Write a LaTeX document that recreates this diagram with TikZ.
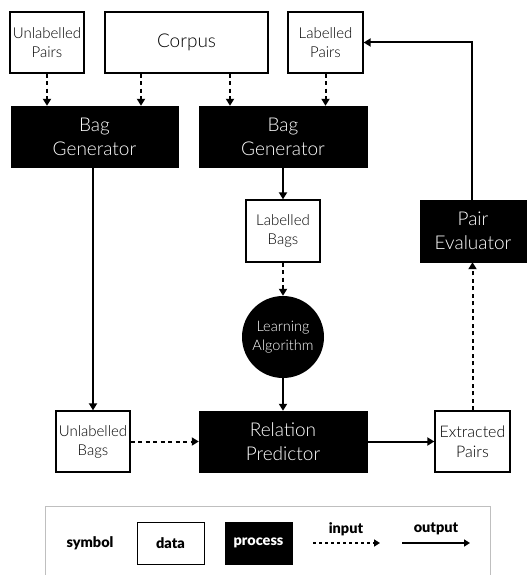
\documentclass[tikz,border=0pt]{standalone}
\usepackage{fontspec}
\setmainfont{Lato Light}[BoldFont={Lato Black}]
\usetikzlibrary{arrows.meta}
\begin{document}
\begin{tikzpicture}[x=1pt,y=-1pt,
  databox/.style={draw=black,line width=1.3pt,fill=white,align=center,inner sep=0pt,font=\fontsize{15}{19}\selectfont},
  procbox/.style={draw=black,fill=black,text=white,align=center,inner sep=0pt,font=\fontsize{19}{24}\selectfont},
  legtext/.style={font=\bfseries\fontsize{14.5}{17}\selectfont},
  inarrow/.style={line width=2pt,dash pattern=on 4pt off 3.5pt,-{Triangle[length=7pt,width=8pt]}},
  outarrow/.style={line width=2pt,-{Triangle[length=7pt,width=8pt]}}]
\useasboundingbox (0,0) rectangle (530,575);
% data nodes
\node[databox,minimum width=74pt,minimum height=61pt] (up) at (47,42.5) {Unlabelled\\Pairs};
\node[databox,minimum width=163pt,minimum height=61pt,font=\fontsize{19}{24}\selectfont] (corpus) at (186.5,42.5) {Corpus};
\node[databox,minimum width=75pt,minimum height=61pt] (lp) at (325.5,42.5) {Labelled\\Pairs};
\node[procbox,minimum width=167pt,minimum height=61pt] (bg1) at (94.5,136.5) {Bag\\Generator};
\node[procbox,minimum width=168pt,minimum height=61pt] (bg2) at (283,136.5) {Bag\\Generator};
\node[databox,minimum width=74pt,minimum height=62pt] (lb) at (283,231) {Labelled\\Bags};
\node[circle,fill=black,text=white,minimum size=82pt,inner sep=0pt,align=center,font=\fontsize{14.5}{19}\selectfont] (la) at (283,337) {Learning\\Algorithm};
\node[procbox,minimum width=106pt,minimum height=62pt] (pe) at (473,231) {Pair\\Evaluator};
\node[databox,minimum width=74pt,minimum height=61pt] (ub) at (93,441.5) {Unlabelled\\Bags};
\node[procbox,minimum width=168pt,minimum height=61pt] (rp) at (283,441.5) {Relation\\Predictor};
\node[databox,minimum width=75pt,minimum height=61pt,font=\fontsize{16}{20}\selectfont] (ep) at (472.5,441.5) {Extracted\\Pairs};
% connectors
\draw[inarrow] (up.south) -- (bg1.north -| up.south);
\draw[inarrow] (corpus.south -| 141,0) -- (bg1.north -| 141,0);
\draw[inarrow] (corpus.south -| 230,0) -- (bg2.north -| 230,0);
\draw[inarrow] (lp.south) -- (bg2.north -| lp.south);
\draw[outarrow] (bg1.south -| ub.north) -- (ub.north);
\draw[outarrow] (bg2.south) -- (lb.north);
\draw[inarrow] (lb.south) -- (la.north);
\draw[outarrow] (la.south) -- (rp.north);
\draw[inarrow] (ub.east) -- (rp.west);
\draw[outarrow] (rp.east) -- (ep.west);
\draw[inarrow] (ep.north) -- (pe.south -| ep.north);
\coordinate (corner) at (472,42.5);
\draw[outarrow] (pe.north -| corner) -- (corner) -- (lp.east);
% legend
\draw[draw=black!25,line width=0.8pt] (45,580) -- (45,506) -- (490,506) -- (490,580);
\node[legtext] (sym) at (90,543) {symbol};
\node[databox,minimum width=67pt,minimum height=42pt,line width=1pt,legtext] (ldata) at (170.5,543) {data};
\node[procbox,minimum width=67pt,minimum height=42pt,legtext] (lproc) at (258.5,543) {process};
\coordinate (i1) at (313,543); \coordinate (i2) at (380,543);
\coordinate (o1) at (402,543); \coordinate (o2) at (470,543);
\draw[line width=1.6pt,dash pattern=on 3pt off 3pt,-{Triangle[length=6pt,width=7pt]}] (i1) -- (i2);
\draw[line width=1.6pt,-{Triangle[length=6pt,width=7pt]}] (o1) -- (o2);
\node[legtext] (lin) at (346,529) {input};
\node[legtext] (lout) at (436,529) {output};
\end{tikzpicture}
\end{document}
